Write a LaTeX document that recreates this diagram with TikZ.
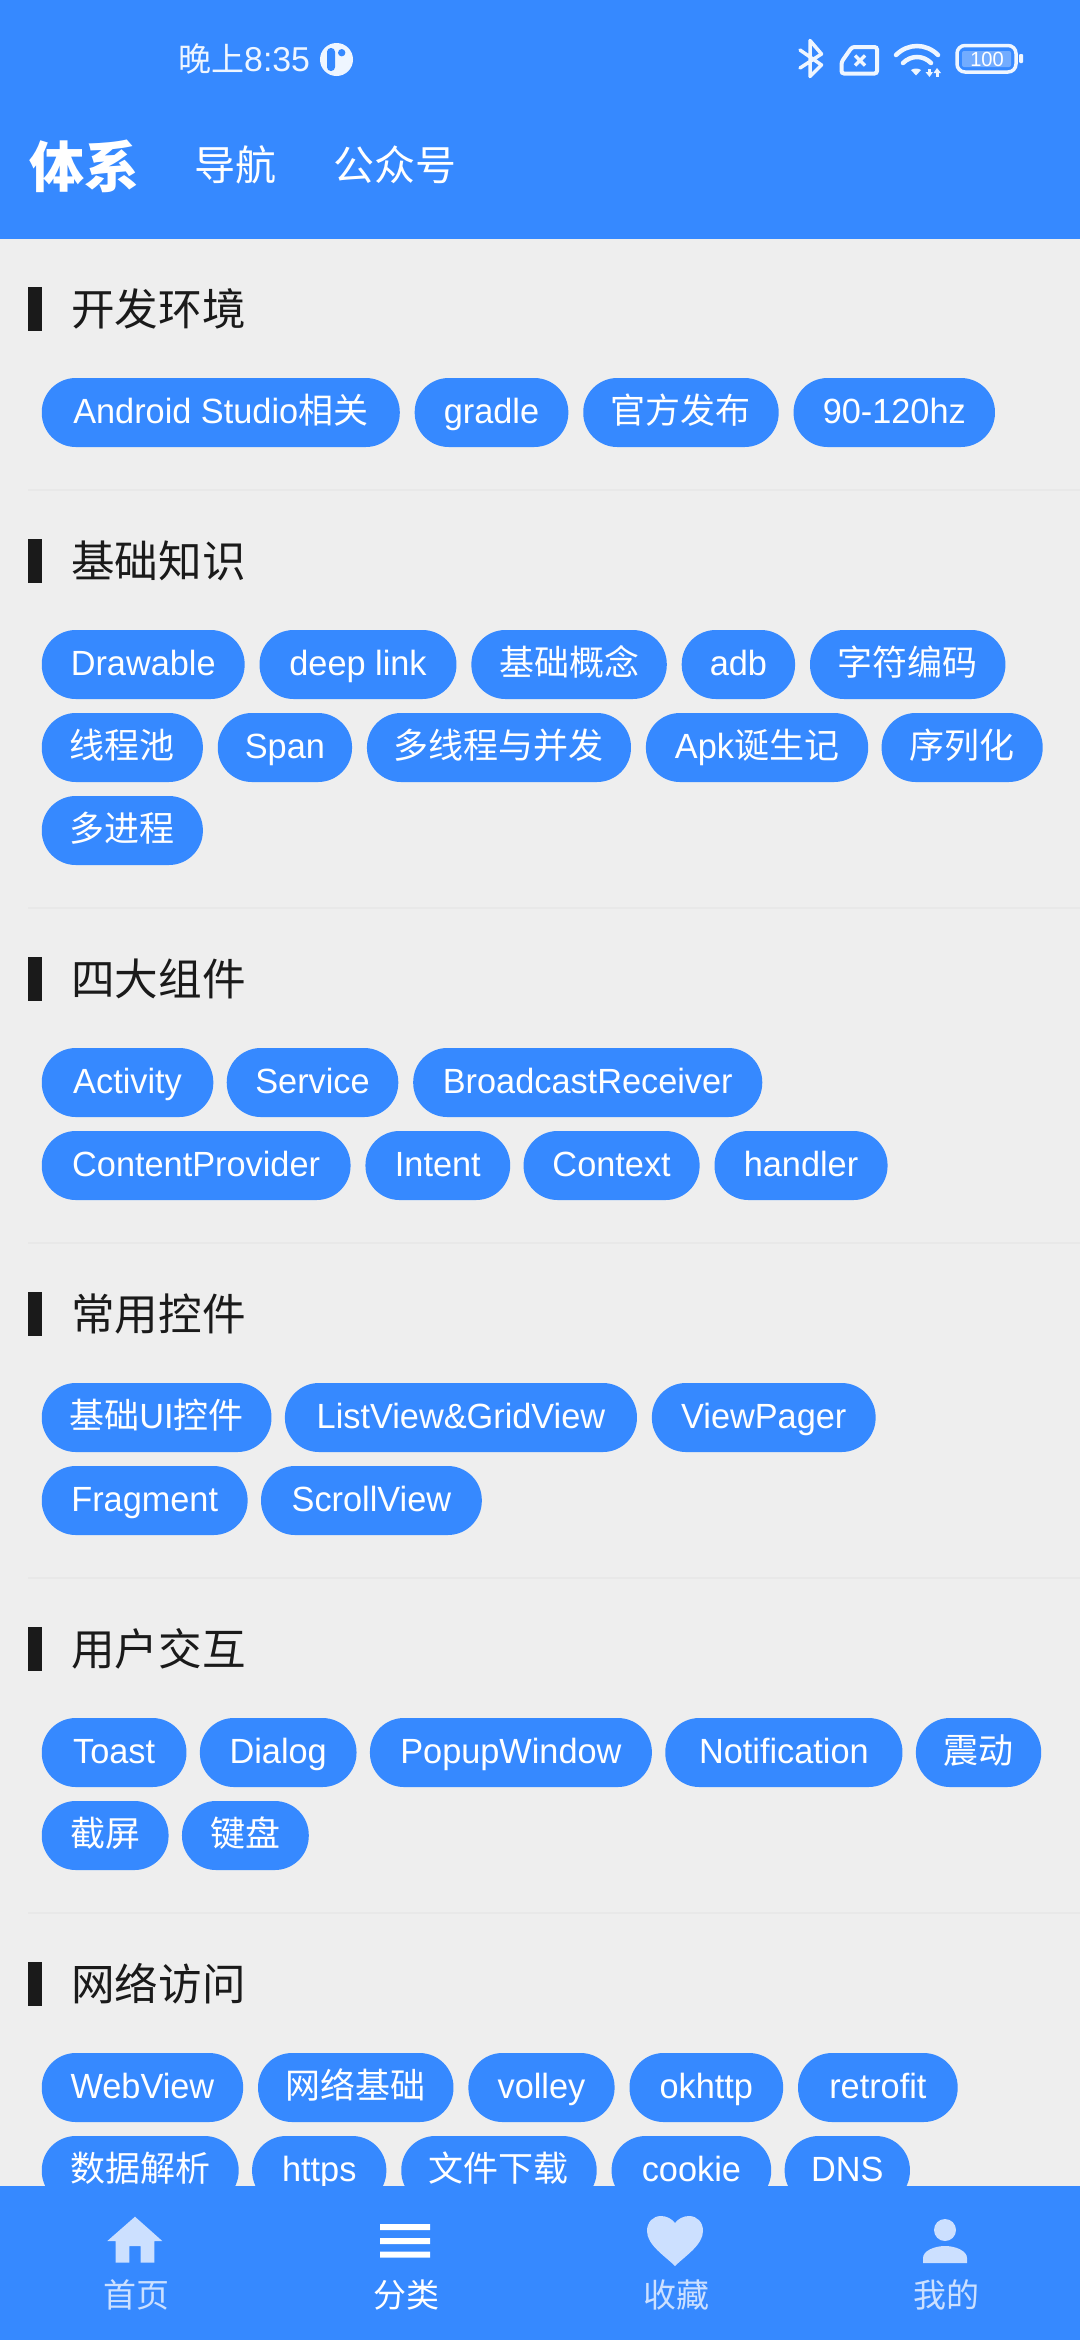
\documentclass[tikz,border=0pt]{standalone}
\usepackage{fontspec}
\setmainfont{Liberation Sans}[FakeStretch=0.98]
\newfontfamily\cjk{Noto Sans CJK SC}
\definecolor{brand}{HTML}{3689FF}
\definecolor{pagebg}{HTML}{EEEEEE}
\definecolor{ink}{HTML}{1A1A1A}
\definecolor{rule}{HTML}{E8E8E8}
\definecolor{pale}{HTML}{CCE0FF}
\colorlet{statusc}{white!92!brand}
\tikzset{
  chipbox/.style={fill=brand,rounded corners=34pt,minimum height=69pt,inner sep=0pt,text height=30pt,text depth=8pt,text=white,font=\fontsize{35}{38}\selectfont,anchor=center},
  sectitle/.style={anchor=west,inner sep=0pt,text=ink,font=\cjk\fontsize{43.6}{48}\selectfont},
  tablabel/.style={anchor=center,inner sep=0pt,text=white,font=\cjk\fontsize{41}{44}\selectfont},
  navlabel/.style={anchor=center,inner sep=0pt,text=pale,font=\cjk\fontsize{33}{36}\selectfont},
  marker/.style={fill=ink,draw=none},
  divider/.style={draw=rule,line width=2pt},
  palefill/.style={fill=pale,draw=none}
}
\newcommand{\chip}[5]{% name, left, right (in 724-wide units), top y px, text
  \pgfmathsetmacro{\chipw}{(#3-#2)*1.4917}
  \pgfmathsetmacro{\chipx}{(#3+#2)*0.74585}
  \pgfmathsetmacro{\chipy}{#4+34.5}
  \node[chipbox,minimum width=\chipw pt] (#1) at (\chipx,\chipy) {#5};
}
\newcommand{\sect}[3]{% name, centre y, text
  \fill[marker] (28,#2-22) rectangle (42,#2+22);
  \node[sectitle] (#1) at (71,#2) {#3};
}
\newcommand{\zh}[1]{{\cjk #1}}
\begin{document}
\begin{tikzpicture}[x=1pt,y=-1pt]
\useasboundingbox (0,0) rectangle (1080,2340);
\fill[pagebg] (0,0) rectangle (1080,2340);
% section 1
\sect{s1}{309}{开发环境}
\chip{a1}{28}{268}{378}{Android Studio\zh{相关}}
\chip{a2}{278}{381}{378}{gradle}
\chip{a3}{391}{522}{378}{\zh{官方发布}}
\chip{a4}{532}{667}{378}{90-120hz}
\draw[divider] (28,490) -- (1080,490);
% section 2
\sect{s2}{561}{基础知识}
\chip{b1}{28}{164}{630}{Drawable}
\chip{b2}{174}{306}{630}{deep link}
\chip{b3}{316}{447}{630}{\zh{基础概念}}
\chip{b4}{457}{533}{630}{adb}
\chip{b5}{543}{674}{630}{\zh{字符编码}}
\chip{b6}{28}{136}{713}{\zh{线程池}}
\chip{b7}{146}{236}{713}{Span}
\chip{b8}{246}{423}{713}{\zh{多线程与并发}}
\chip{b9}{433}{582}{713}{Apk\zh{诞生记}}
\chip{b10}{591}{699}{713}{\zh{序列化}}
\chip{b11}{28}{136}{796}{\zh{多进程}}
\draw[divider] (28,908) -- (1080,908);
% section 3
\sect{s3}{979}{四大组件}
\chip{c1}{28}{143}{1048}{Activity}
\chip{c2}{152}{267}{1048}{Service}
\chip{c3}{277}{511}{1048}{BroadcastReceiver}
\chip{c4}{28}{235}{1131}{ContentProvider}
\chip{c5}{245}{342}{1131}{Intent}
\chip{c6}{351}{469}{1131}{Context}
\chip{c7}{479}{595}{1131}{handler}
\draw[divider] (28,1243) -- (1080,1243);
% section 4
\sect{s4}{1314}{常用控件}
\chip{d1}{28}{182}{1383}{\zh{基础}UI\zh{控件}}
\chip{d2}{191}{427}{1383}{ListView\&GridView}
\chip{d3}{437}{587}{1383}{ViewPager}
\chip{d4}{28}{166}{1466}{Fragment}
\chip{d5}{175}{323}{1466}{ScrollView}
\draw[divider] (28,1578) -- (1080,1578);
% section 5
\sect{s5}{1649}{用户交互}
\chip{e1}{28}{125}{1718}{Toast}
\chip{e2}{134}{239}{1718}{Dialog}
\chip{e3}{248}{437}{1718}{PopupWindow}
\chip{e4}{446}{605}{1718}{Notification}
\chip{e5}{614}{698}{1718}{\zh{震动}}
\chip{e6}{28}{113}{1801}{\zh{截屏}}
\chip{e7}{122}{207}{1801}{\zh{键盘}}
\draw[divider] (28,1913) -- (1080,1913);
% section 6
\sect{s6}{1984}{网络访问}
\chip{f1}{28}{163}{2053}{WebView}
\chip{f2}{173}{304}{2053}{\zh{网络基础}}
\chip{f3}{314}{412}{2053}{volley}
\chip{f4}{422}{525}{2053}{okhttp}
\chip{f5}{535}{642}{2053}{retrofit}
\chip{f6}{28}{160}{2136}{\zh{数据解析}}
\chip{f7}{169}{259}{2136}{https}
\chip{f8}{269}{400}{2136}{\zh{文件下载}}
\chip{f9}{410}{517}{2136}{cookie}
\chip{f10}{526}{610}{2136}{DNS}
% top bar
\fill[brand] (0,0) rectangle (1080,239);
\node[anchor=west,inner sep=0pt,text=statusc,font=\fontsize{34.5}{36}\selectfont] (clock) at (178,59) {{\cjk\fontsize{33}{36}\selectfont 晚上}8:35};
\fill[statusc] (336.5,59.5) circle (16.5);
\fill[brand,rounded corners=3.8pt] (327,48) rectangle (335,71);
\fill[brand] (341.7,52.7) circle (3.7);
\node[tablabel,font=\cjk\bfseries\fontsize{55}{58}\selectfont] (tab1) at (84.5,166) {体系};
\node[tablabel] (tab2) at (235,165) {导航};
\node[tablabel] (tab3) at (394.5,165) {公众号};
% status icons
\draw[statusc,line width=3.5pt,line cap=round,line join=round] (800,50) -- (821.5,65) -- (810,76.5) -- (810,40.5) -- (821.5,54) -- (800,68);
\draw[statusc,line width=4pt,rounded corners=2.5pt] (852,47) -- (877,47) -- (877,73.5) -- (841.5,73.5) -- (841.5,62) -- cycle;
\draw[statusc,line width=3.5pt] (855,55.5) -- (865,65.5) (865,55.5) -- (855,65.5);
\draw[statusc,line width=4.5pt,line cap=round] (896,55) .. controls (908,43) and (926,43) .. (938,55);
\draw[statusc,line width=4.5pt,line cap=round] (903,63) .. controls (911,55) and (923,55) .. (931,63);
\fill[statusc] (911,70) .. controls (914,68) and (918,68) .. (921,70) -- (916,75.5) -- cycle;
\fill[statusc] (928,68.5) rectangle (931,73);
\fill[statusc] (925.5,72) -- (933,72) -- (929.5,77) -- cycle;
\fill[statusc] (933.5,73) -- (941,73) -- (937,68) -- cycle;
\fill[statusc] (935.5,73) rectangle (938.5,77);
\draw[statusc,line width=3.5pt,rounded corners=8pt] (957,45.5) rectangle (1016,72);
\fill[white,opacity=.3,rounded corners=2pt] (962,51) rectangle (1011,67);
\fill[statusc,rounded corners=1pt] (1019,54) rectangle (1023,63);
\node[anchor=center,inner sep=0pt,text=white,font=\fontsize{20.5}{22}\selectfont] (batt) at (987,59) {100};
% bottom bar
\fill[brand] (0,2186) rectangle (1080,2340);
\fill[palefill] (135,2216.7) -- (162.3,2241) -- (154.3,2241) -- (154.3,2262.7) -- (140.7,2262.7) -- (140.7,2246) -- (129.3,2246) -- (129.3,2262.7) -- (115.7,2262.7) -- (115.7,2241) -- (107.3,2241) -- cycle;
\fill[white] (380,2224) rectangle (430,2230) (380,2238) rectangle (430,2244) (380,2251.7) rectangle (430,2257.7);
\fill[palefill] (675,2266) .. controls (665,2256) and (647,2245) .. (647,2231) .. controls (647,2222) and (653,2216) .. (661,2216) .. controls (667,2216) and (672,2219) .. (675,2223) .. controls (678,2219) and (683,2216) .. (689,2216) .. controls (697,2216) and (703,2222) .. (703,2231) .. controls (703,2245) and (685,2256) .. (675,2266) -- cycle;
\fill[palefill] (945,2230) circle (11);
\fill[palefill] (923,2263) -- (923,2258) .. controls (923,2251) and (934,2246) .. (945,2246) .. controls (956,2246) and (967,2251) .. (967,2258) -- (967,2263) -- cycle;
\node[navlabel] (nav1) at (136,2295) {首页};
\node[navlabel,text=white] (nav2) at (406,2295) {分类};
\node[navlabel] (nav3) at (676.5,2295) {收藏};
\node[navlabel] (nav4) at (946,2295) {我的};
\end{tikzpicture}
\end{document}
